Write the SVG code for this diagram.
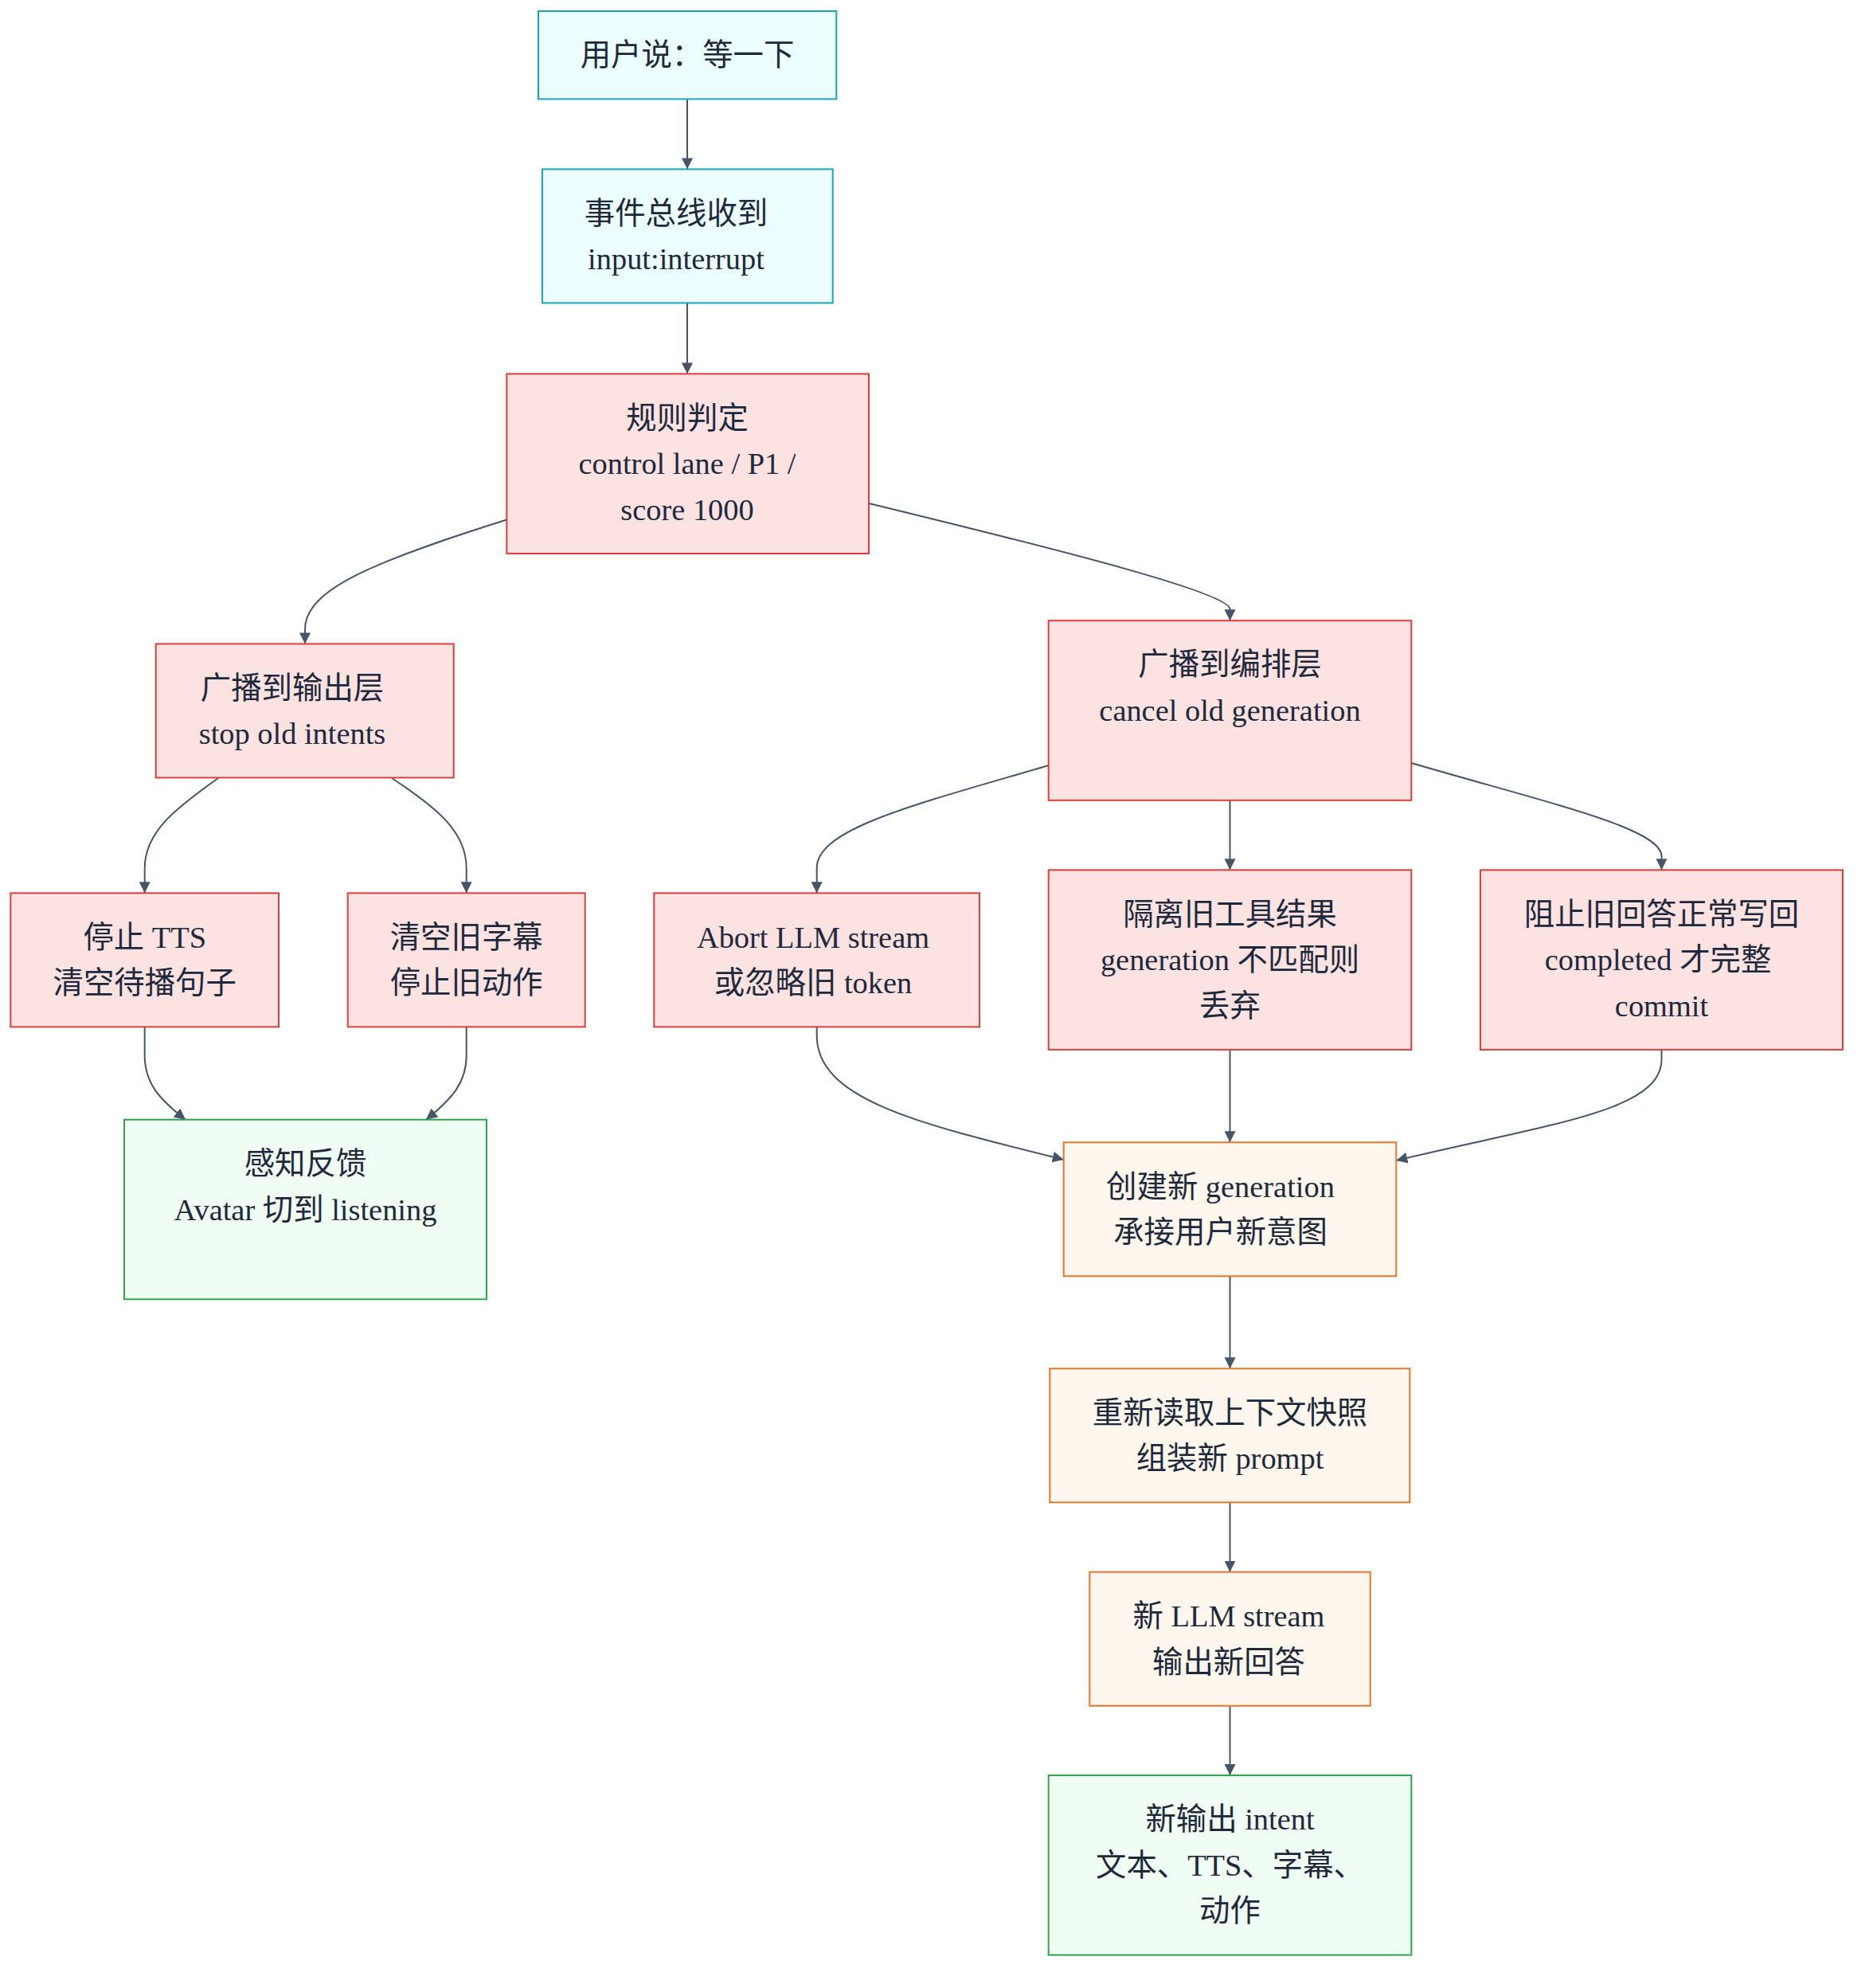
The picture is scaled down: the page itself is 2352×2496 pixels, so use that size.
<svg xmlns="http://www.w3.org/2000/svg" width="2352" height="2496" viewBox="0 0 2352 2496">
<style>
text{font-family:"Liberation Serif","Noto Sans CJK SC",serif;font-size:38.4px;fill:#1e293b;text-anchor:middle}
.cy{fill:#ecfeff;stroke:#1ca3b6;stroke-width:2}
.rd{fill:#fde2e2;stroke:#dc3f42;stroke-width:2}
.gr{fill:#f0fdf4;stroke:#2ea44f;stroke-width:2}
.or{fill:#fff7ed;stroke:#e8762d;stroke-width:2}
.e{fill:none;stroke:#475569;stroke-width:2;marker-end:url(#ah)}
</style>
<defs>
<marker id="ah" viewBox="0 0 10 10" refX="10" refY="5" markerUnits="userSpaceOnUse" markerWidth="14" markerHeight="14" orient="auto">
<path d="M0,0 L10,5 L0,10 z" fill="#475569"/>
</marker>
</defs>
<rect width="2352" height="2496" fill="#ffffff"/>
<g id="edges">
<path class="e" d="M863,124.4 L863,212.4"/>
<path class="e" d="M863,380.4 L863,469.4"/>
<path class="e" d="M636.3,652.5 C470,705 383,740 383,790 L383,808.4"/>
<path class="e" d="M1091,632 C1350,695 1544.5,745 1544.5,765 L1544.5,779.2"/>
<path class="e" d="M274,977 C220,1015 181.7,1045 181.7,1090 L181.7,1121.3"/>
<path class="e" d="M492,977 C550,1015 585.7,1045 585.7,1090 L585.7,1121.3"/>
<path class="e" d="M181.7,1289.3 L181.7,1325 C181.7,1360 200,1380 233,1405.7"/>
<path class="e" d="M585.7,1289.3 L585.7,1325 C585.7,1360 567,1380 535,1405.7"/>
<path class="e" d="M1316.7,961 C1150,1010 1025.7,1040 1025.7,1090 L1025.7,1121.3"/>
<path class="e" d="M1544.5,1004.8 L1544.5,1092.3"/>
<path class="e" d="M1772.3,958 C1950,1010 2086.5,1040 2086.5,1075 L2086.5,1092.3"/>
<path class="e" d="M1025.7,1289.3 L1025.7,1300 C1025.7,1380 1150,1410 1335.7,1456"/>
<path class="e" d="M1544.5,1317.9 L1544.5,1434.3"/>
<path class="e" d="M2086.5,1317.9 L2086.5,1330 C2086.5,1395 1950,1410 1753.3,1457"/>
<path class="e" d="M1544.5,1602.3 L1544.5,1718.3"/>
<path class="e" d="M1544.5,1886.3 L1544.5,1973.7"/>
<path class="e" d="M1544.5,2141.7 L1544.5,2229"/>
</g>
<g id="n1"><rect class="cy" x="676" y="14" width="374.3" height="110.4"/><text x="863" y="82">用户说：等一下</text></g>
<g id="n2"><rect class="cy" x="681" y="212.4" width="364.7" height="168"/><text x="849" y="281">事件总线收到</text><text x="849" y="338">input:interrupt</text></g>
<g id="n3"><rect class="rd" x="636.3" y="469.4" width="454.7" height="225.6"/><text x="863" y="538">规则判定</text><text x="863" y="595">control lane / P1 /</text><text x="863" y="653">score 1000</text></g>
<g id="n4"><rect class="rd" x="195.7" y="808.4" width="374" height="168"/><text x="367" y="877">广播到输出层</text><text x="367" y="934">stop old intents</text></g>
<g id="n5"><rect class="rd" x="13.3" y="1121.3" width="336.7" height="168"/><text x="181.7" y="1190">停止 TTS</text><text x="181.7" y="1247">清空待播句子</text></g>
<g id="n6"><rect class="rd" x="436.7" y="1121.3" width="298" height="168"/><text x="585.7" y="1190">清空旧字幕</text><text x="585.7" y="1247">停止旧动作</text></g>
<g id="n7"><rect class="gr" x="156" y="1405.7" width="455" height="225.6"/><text x="383.5" y="1474">感知反馈</text><text x="383.5" y="1532">Avatar 切到 listening</text></g>
<g id="n8"><rect class="rd" x="1316.7" y="779.2" width="455.6" height="225.6"/><text x="1544.5" y="847">广播到编排层</text><text x="1544.5" y="905">cancel old generation</text></g>
<g id="n9"><rect class="rd" x="821.3" y="1121.3" width="408.7" height="168"/><text x="1021" y="1190">Abort LLM stream</text><text x="1021" y="1247">或忽略旧 token</text></g>
<g id="n10"><rect class="rd" x="1316.7" y="1092.3" width="455.6" height="225.6"/><text x="1544.5" y="1161">隔离旧工具结果</text><text x="1544.5" y="1218">generation 不匹配则</text><text x="1544.5" y="1276">丢弃</text></g>
<g id="n11"><rect class="rd" x="1859" y="1092.3" width="455" height="225.6"/><text x="2086.5" y="1161">阻止旧回答正常写回</text><text x="2082" y="1218">completed 才完整</text><text x="2086.5" y="1276">commit</text></g>
<g id="n12"><rect class="or" x="1335.7" y="1434.3" width="417.6" height="168"/><text x="1532.5" y="1503">创建新 generation</text><text x="1532.5" y="1560">承接用户新意图</text></g>
<g id="n13"><rect class="or" x="1318.3" y="1718.3" width="452" height="168"/><text x="1544.5" y="1787">重新读取上下文快照</text><text x="1544.5" y="1844">组装新 prompt</text></g>
<g id="n14"><rect class="or" x="1368.3" y="1973.7" width="352.4" height="168"/><text x="1543" y="2042">新 LLM stream</text><text x="1543" y="2100">输出新回答</text></g>
<g id="n15"><rect class="gr" x="1316.7" y="2229" width="455.6" height="225.6"/><text x="1544.5" y="2297">新输出 intent</text><text x="1544.5" y="2355">文本、TTS、字幕、</text><text x="1544.5" y="2412">动作</text></g>
</svg>
